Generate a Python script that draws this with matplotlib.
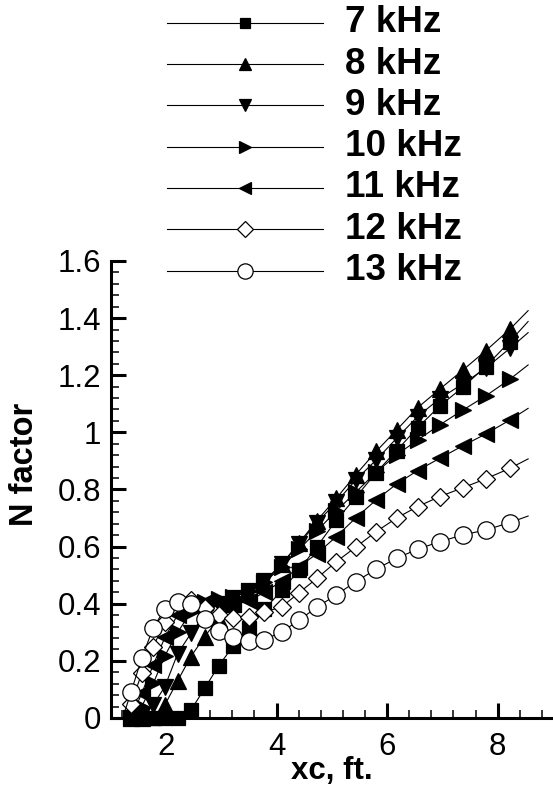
"""
N factor vs. xc for 7-13 kHz disturbances (line + symbol plot).
"""

import matplotlib
matplotlib.use("Agg")
import matplotlib.pyplot as plt
from matplotlib.lines import Line2D
from matplotlib.ticker import MultipleLocator, FuncFormatter

plt.rcParams["font.family"] = ["Liberation Sans", "DejaVu Sans"]

# -----------------------------------------------------------------------------
# Data. First and last entries are the bare line ends.
# -----------------------------------------------------------------------------

XC = [1.25, 1.37, 1.56, 1.77, 1.98, 2.21, 2.45, 2.70, 2.95, 3.22, 3.50, 3.78,
      4.10, 4.41, 4.73, 5.08, 5.43, 5.80, 6.17, 6.55, 6.95, 7.37, 7.78, 8.22, 8.55]

N_7K = [0, 0, 0, 0, 0, 0, 0.027, 0.104, 0.182, 0.253, 0.316, 0.380,
        0.448, 0.518, 0.600, 0.692, 0.772, 0.859, 0.936, 1.016, 1.092, 1.158, 1.230, 1.318, 1.388]
N_8K = [0, 0, 0, 0.005, 0.046, 0.130, 0.215, 0.285, 0.348, 0.400, 0.435, 0.475,
        0.540, 0.614, 0.691, 0.769, 0.851, 0.933, 1.008, 1.086, 1.151, 1.218, 1.285, 1.361, 1.426]
N_9K = [0, 0, 0.010, 0.046, 0.110, 0.225, 0.296, 0.361, 0.400, 0.420, 0.445, 0.480,
        0.540, 0.610, 0.684, 0.755, 0.833, 0.903, 0.979, 1.055, 1.118, 1.170, 1.224, 1.294, 1.349]
N_10K = [0, 0, 0.040, 0.121, 0.218, 0.300, 0.370, 0.405, 0.415, 0.425, 0.445, 0.475,
         0.530, 0.590, 0.655, 0.725, 0.790, 0.860, 0.921, 0.973, 1.026, 1.078, 1.127, 1.186, 1.236]
N_11K = [0, 0, 0.086, 0.186, 0.282, 0.361, 0.396, 0.405, 0.398, 0.398, 0.410, 0.440,
         0.480, 0.530, 0.575, 0.635, 0.700, 0.763, 0.819, 0.866, 0.909, 0.953, 0.994, 1.043, 1.084]
N_12K = [0, 0.050, 0.156, 0.250, 0.337, 0.402, 0.413, 0.384, 0.362, 0.350, 0.355, 0.370,
         0.390, 0.439, 0.489, 0.547, 0.598, 0.652, 0.700, 0.740, 0.775, 0.806, 0.837, 0.874, 0.907]
N_13K = [0.020, 0.092, 0.209, 0.316, 0.382, 0.407, 0.400, 0.346, 0.305, 0.285, 0.268, 0.274,
         0.302, 0.343, 0.388, 0.431, 0.477, 0.521, 0.559, 0.591, 0.617, 0.641, 0.658, 0.684, 0.707]

LABELS = ["7 kHz", "8 kHz", "9 kHz", "10 kHz", "11 kHz", "12 kHz", "13 kHz"]
SERIES = [N_7K, N_8K, N_9K, N_10K, N_11K, N_12K, N_13K]

# marker, size in plot (pt), size in legend (pt), face colour
STYLES = [
    ("s", 9.5, 7.5, "black"),
    ("^", 11, 9, "black"),
    ("v", 11, 9, "black"),
    (">", 11, 9, "black"),
    ("<", 11, 9, "black"),
    ("D", 9.5, 8, "white"),
    ("o", 12.5, 11, "white"),
]


def draw_legend(fig):
    """Hand-placed legend above the axes (Tecplot style)."""
    W, H = fig.get_size_inches() * fig.dpi
    x0, x1, xm, xt = 167 / W, 323 / W, 245 / W, 345 / W
    for i, (label, (mk, _, ms, fc)) in enumerate(zip(LABELS, STYLES)):
        y = 1 - (22.7 + 41.3 * i) / H
        fig.add_artist(Line2D([x0, x1], [y, y], transform=fig.transFigure,
                              color="black", lw=0.8))
        fig.add_artist(Line2D([xm], [y], transform=fig.transFigure,
                              marker=mk, ms=ms, mfc=fc, mec="black",
                              mew=0.9, ls="none"))
        fig.text(xt, y, label, fontsize=26.5, fontweight="bold",
                 va="center", ha="left")


def main():
    fig = plt.figure(figsize=(5.53, 7.91), dpi=100)
    ax = fig.add_axes([0.2002, 0.0923, 0.7998, 0.5778])

    for vals, (mk, ms, _, fc) in zip(SERIES, STYLES):
        ax.plot(XC, vals, color="black", lw=0.8, marker=mk, ms=ms,
                mfc=fc, mec="black", mew=0.9, markevery=slice(1, -1),
                clip_on=False)

    ax.set_xlim(1, 9)
    ax.set_ylim(0, 1.6)

    ax.spines["top"].set_visible(False)
    ax.spines["right"].set_visible(False)
    for side in ("left", "bottom"):
        ax.spines[side].set_linewidth(2.2)

    ax.xaxis.set_major_locator(MultipleLocator(2))
    ax.xaxis.set_minor_locator(MultipleLocator(0.4))
    ax.yaxis.set_major_locator(MultipleLocator(0.2))
    ax.yaxis.set_minor_locator(MultipleLocator(0.04))
    ax.yaxis.set_major_formatter(FuncFormatter(lambda v, _: f"{v:g}"))

    ax.tick_params(which="major", direction="in", length=11, width=2.2,
                   labelsize=22.5, pad=7)
    ax.tick_params(which="minor", direction="in", length=6, width=1.1)
    ax.tick_params(axis="x", which="major", pad=10)

    ax.set_xlabel("xc, ft.", fontsize=22.5, fontweight="bold")
    ax.set_ylabel("N factor", fontsize=23.5, fontweight="bold")
    ax.xaxis.set_label_coords(0.5, -0.083)
    ax.yaxis.set_label_coords(-0.16, 0.554)

    draw_legend(fig)

    fig.savefig("out.png", dpi=100)
    plt.close(fig)


if __name__ == "__main__":
    main()
